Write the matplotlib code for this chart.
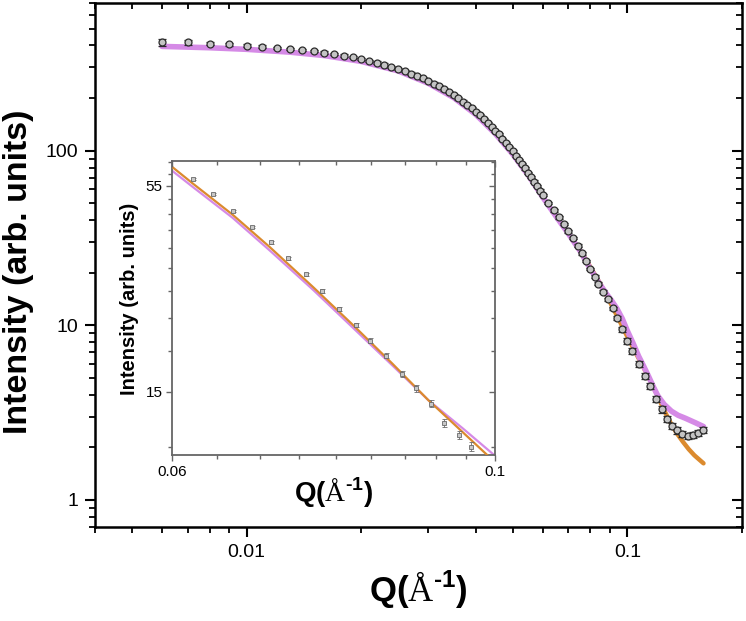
import numpy as np
import matplotlib
matplotlib.use("Agg")
import matplotlib.pyplot as plt
from matplotlib.ticker import LogLocator, NullFormatter, FixedLocator

plt.rcParams['font.family'] = ['Liberation Sans', 'DejaVu Sans']
plt.rcParams['mathtext.fontset'] = 'custom'
plt.rcParams['mathtext.rm'] = 'Liberation Serif'
plt.rcParams['mathtext.bf'] = 'Liberation Sans:bold'

# main data
q = [0.006, 0.007, 0.008, 0.009, 0.010, 0.011, 0.012, 0.013, 0.014, 0.015,
     0.016, 0.017, 0.018, 0.019, 0.020, 0.021, 0.022, 0.023, 0.024, 0.025,
     0.026, 0.027, 0.028, 0.029, 0.030, 0.031, 0.032, 0.033, 0.034, 0.035,
     0.036, 0.037, 0.038, 0.039, 0.040, 0.041, 0.042, 0.043, 0.044, 0.045,
     0.046, 0.047, 0.048, 0.049, 0.050, 0.051, 0.052, 0.053, 0.054, 0.055,
     0.056, 0.057, 0.058, 0.059, 0.060, 0.062, 0.064, 0.066, 0.068, 0.070,
     0.072, 0.074, 0.076, 0.078, 0.080, 0.082, 0.084, 0.0865, 0.089, 0.0915,
     0.094, 0.097, 0.100, 0.103, 0.107, 0.111, 0.115, 0.119, 0.123, 0.127,
     0.131, 0.135, 0.1395, 0.144, 0.149, 0.1535, 0.158]
inten = [418, 416, 410, 405, 399, 394, 388, 383, 377, 370,
         364, 357, 350, 342, 335, 327, 319, 311, 302, 294,
         285, 276, 268, 259, 250, 242, 233, 224, 216, 207,
         199, 191, 183, 175, 167, 159, 152, 144, 137, 130,
         124, 117, 111, 105, 99, 93.5, 88.5, 83.5, 79, 74.5,
         70.5, 66.5, 62.5, 59, 55.5, 50, 45.5, 41.5, 38, 34.5,
         31.5, 28.5, 25.8, 23.3, 21.0, 19.0, 17.3, 15.6, 14.1, 12.5,
         11.0, 9.5, 8.1, 7.1, 6.0, 5.1, 4.5, 3.8, 3.3, 2.9,
         2.65, 2.5, 2.38, 2.33, 2.36, 2.42, 2.52]
err = [20, 15, 6, 6, 6, 6, 6, 6, 5.5, 5.5,
       5.5, 5, 5, 5, 5, 5, 5, 4.5, 4.5, 4.5,
       4, 4, 4, 4, 3.5, 3.5, 3.5, 3.5, 3, 3,
       3, 3, 2.8, 2.6, 2.5, 2.4, 2.3, 2.2, 2.1, 2.0,
       1.9, 1.8, 1.7, 1.6, 1.5, 1.4, 1.3, 1.3, 1.2, 1.1,
       1.1, 1.0, 1.0, 0.9, 0.9, 0.8, 0.7, 0.7, 0.6, 0.6,
       0.5, 0.5, 0.45, 0.4, 0.4, 0.35, 0.35, 0.3, 0.3, 0.3,
       0.3, 0.3, 0.3, 0.28, 0.24, 0.2, 0.18, 0.15, 0.14, 0.12,
       0.11, 0.11, 0.1, 0.1, 0.1, 0.1, 0.11]

# fit curves, main panel
q_violet = [0.006, 0.008, 0.010, 0.013, 0.016, 0.020, 0.025, 0.030, 0.035, 0.040,
            0.045, 0.050, 0.055, 0.060, 0.065, 0.070, 0.075, 0.080, 0.085, 0.088,
            0.091, 0.094, 0.097, 0.100, 0.1035, 0.1071, 0.1105, 0.1137, 0.117, 0.1202,
            0.125, 0.1306, 0.136, 0.1418, 0.1507, 0.1585]
i_violet = [395, 388, 380, 366, 350, 324, 286, 243, 201, 161,
            125, 95.5, 72, 54, 42, 33.5, 26.8, 21.0, 17.0, 15.2,
            13.8, 12.4, 10.9, 9.3, 7.9, 6.64, 5.8, 5.1, 4.45, 3.95,
            3.52, 3.22, 3.05, 2.94, 2.77, 2.63]
q_orange = [0.075, 0.080, 0.085, 0.090, 0.095, 0.100, 0.105, 0.110, 0.115, 0.120,
            0.125, 0.130, 0.135, 0.140, 0.145, 0.150, 0.1585]
i_orange = [27.0, 21.5, 17.2, 13.6, 10.8, 8.6, 7.0, 5.8, 4.8, 3.95,
            3.25, 2.75, 2.40, 2.15, 1.95, 1.80, 1.62]

# inset data
q_in = [0.0620, 0.0640, 0.0661, 0.0681, 0.0701, 0.0721, 0.0741, 0.0761, 0.0781,
        0.0802, 0.0821, 0.0842, 0.0863, 0.0883, 0.0904, 0.0922, 0.0944, 0.0963]
i_in = [57.5, 52.3, 47.0, 42.4, 38.5, 34.8, 31.5, 28.3, 25.3,
        22.9, 20.7, 18.8, 16.8, 15.3, 13.9, 12.3, 11.4, 10.6]
e_in = [0.3, 0.3, 0.3, 0.3, 0.3, 0.3, 0.3, 0.3, 0.3,
        0.3, 0.3, 0.3, 0.3, 0.3, 0.3, 0.3, 0.3, 0.3]
q_in_orange = [0.060, 0.062, 0.066, 0.070, 0.075, 0.080, 0.085, 0.090, 0.0989]
i_in_orange = [62.0, 55.8, 45.9, 37.4, 29.0, 22.7, 17.9, 14.2, 10.0]
q_in_violet = [0.060, 0.062, 0.066, 0.070, 0.075, 0.080, 0.085, 0.090, 0.095, 0.100]
i_in_violet = [60.5, 54.6, 45.0, 36.6, 28.5, 22.3, 17.7, 14.2, 11.9, 10.0]

violet = '#d58ae6'
orange = '#db8a2e'
mark = '#2b2b2b'
gray = '#666666'
qlabel = r'$\mathbf{Q(}\mathrm{Å}^{\mathbf{‐1}}\mathbf{)}$'

fig = plt.figure(figsize=(7.46, 6.21), dpi=100)
pos = [0.1273, 0.1514, 0.8673, 0.8438]
ax = fig.add_axes(pos)
ax.set_xscale('log')
ax.set_yscale('log')

ax.plot(q_orange, i_orange, color=orange, lw=3.2, solid_capstyle='round', zorder=2)
ax.plot(q_violet, i_violet, color=violet, lw=4.0, solid_capstyle='round', zorder=3)
ax.errorbar(q, inten, yerr=err, fmt='o', ms=5, mfc='#c4c4c4', mec=mark, mew=0.9,
            ecolor=mark, elinewidth=0.8, capsize=3, capthick=0.8, zorder=4)

ax.set_xlim(0.004, 0.2)
ax.set_ylim(0.7, 700)
ax.set_xticks([0.01, 0.1], ['0.01', '0.1'])
ax.set_yticks([1, 10, 100], ['1', '10', '100'])
for a in (ax.xaxis, ax.yaxis):
    a.set_minor_locator(LogLocator(base=10, subs=np.arange(2, 10) * 1.0, numticks=20))
    a.set_minor_formatter(NullFormatter())
ax.tick_params(which='major', direction='out', length=7, width=1.5, labelsize=14, pad=5)
ax.tick_params(which='minor', direction='out', length=4, width=1.3)
for s in ax.spines.values():
    s.set_linewidth(1.8)

# inward ticks on top/right
ax2 = fig.add_axes(pos, sharex=ax, sharey=ax, frameon=False)
ax2.tick_params(which='both', direction='in', top=True, right=True, bottom=False, left=False,
                labelbottom=False, labelleft=False)
ax2.tick_params(which='major', length=7, width=1.5)
ax2.tick_params(which='minor', length=4, width=1.3)
ax2.patch.set_visible(False)

ax.set_xlabel(qlabel, fontsize=25, va='center')
ax.xaxis.set_label_coords(0.5, -0.12)
ax.set_ylabel('Intensity (arb. units)', fontsize=24.5, fontweight='bold', va='center')
ax.yaxis.set_label_coords(-0.1175, 0.487)

# inset
ipos = [0.231, 0.2673, 0.4326, 0.4734]
axi = fig.add_axes(ipos)
axi.set_xscale('log')
axi.set_yscale('log')
axi.plot(q_in_violet, i_in_violet, color=violet, lw=1.6, zorder=2)
axi.plot(q_in_orange, i_in_orange, color=orange, lw=1.6, zorder=3)
axi.errorbar(q_in, i_in, yerr=e_in, fmt='s', ms=2.3, mfc='#c8c8c8', mec='#6a6a6a', mew=0.6,
             ecolor='#6a6a6a', elinewidth=0.6, capsize=1.8, capthick=0.6, zorder=4)
axi.set_xlim(0.06, 0.1)
axi.set_ylim(10.05, 64.4)
axi.set_xticks([0.06, 0.1], ['0.06', '0.1'])
axi.set_yticks([15, 55], ['15', '55'])
axi.xaxis.set_minor_locator(FixedLocator([0.06444, 0.06889, 0.07333, 0.07778, 0.08222,
                                          0.08667, 0.09111, 0.09556]))
axi.yaxis.set_minor_locator(FixedLocator([63.89, 59.44, 50.56, 46.11, 41.67, 37.22, 32.78,
                                          28.33, 23.89, 19.44, 10.56]))
axi.xaxis.set_minor_formatter(NullFormatter())
axi.yaxis.set_minor_formatter(NullFormatter())
axi.tick_params(which='both', direction='out', color=gray, width=1.0, labelsize=11, pad=3)
axi.tick_params(which='major', length=4)
axi.tick_params(which='minor', length=3)
for s in axi.spines.values():
    s.set_linewidth(1.3)
    s.set_color(gray)

axi2 = fig.add_axes(ipos, sharex=axi, sharey=axi, frameon=False)
axi2.tick_params(which='both', direction='in', top=True, right=True, bottom=False, left=False,
                 labelbottom=False, labelleft=False, color=gray, width=1.0)
axi2.tick_params(which='major', length=4)
axi2.tick_params(which='minor', length=3)
axi2.patch.set_visible(False)

axi.set_xlabel(qlabel, fontsize=20, va='center')
axi.xaxis.set_label_coords(0.5, -0.13)
axi.set_ylabel('Intensity (arb. units)', fontsize=14.5, fontweight='bold', va='center')
axi.yaxis.set_label_coords(-0.134, 0.53)

fig.savefig('out.png', dpi=100)
